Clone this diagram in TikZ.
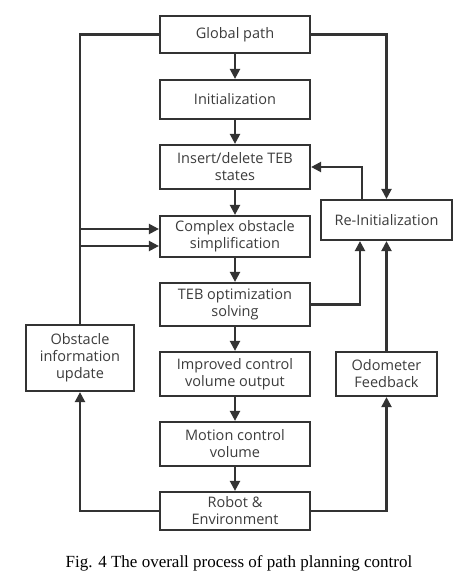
\documentclass[tikz,border=0pt]{standalone}
\usepackage{fontspec}
\setmainfont{Open Sans}
\newfontfamily\capfont{Liberation Serif}
\usetikzlibrary{arrows.meta}
\definecolor{ln}{HTML}{333333}
\definecolor{tx}{HTML}{3C3C3C}
\begin{document}
\begin{tikzpicture}[x=1pt,y=-1pt,
  box/.style={draw=ln,line width=2.2pt,fill=white,text=tx,align=center,inner sep=0pt,
    font=\fontsize{14.5}{17}\selectfont},
  conn/.style={draw=ln,line width=2.2pt,-{Triangle[length=10pt,width=10pt]}}]
\useasboundingbox (0,0) rectangle (457,583);
\fill[white] (0,0) rectangle (457,583);
\node[box,minimum width=150pt,minimum height=37pt] (gp) at (235,34.5) {Global path};
\node[box,minimum width=150pt,minimum height=39pt] (init) at (235,99.5) {Initialization};
\node[box,minimum width=150pt,minimum height=44pt] (ins) at (235,167) {Insert/delete TEB\\states};
\node[box,minimum width=150pt,minimum height=41pt] (cos) at (235,236.5) {Complex obstacle\\simplification};
\node[box,minimum width=150pt,minimum height=43pt] (teb) at (235,304.5) {TEB optimization\\solving};
\node[box,minimum width=150pt,minimum height=44pt] (imp) at (235,374) {Improved control\\volume output};
\node[box,minimum width=150pt,minimum height=44pt] (mot) at (235,444) {Motion control\\volume};
\node[box,minimum width=150pt,minimum height=38pt] (rob) at (235,511) {Robot \&\\Environment};
\node[box,minimum width=131pt,minimum height=40pt] (re) at (386.5,220) {Re-Initialization};
\node[box,minimum width=108pt,minimum height=66pt] (obs) at (80,358) {Obstacle\\information\\update};
\node[box,minimum width=101pt,minimum height=44pt] (odo) at (386.5,374) {Odometer\\Feedback};
\node[font=\capfont\fontsize{17}{19}\selectfont,text=black] (cap) at (239,563) {Fig. 4 The overall process of path planning control};
% main chain
\draw[conn] (gp) -- (init);
\draw[conn] (init) -- (ins);
\draw[conn] (ins) -- (cos);
\draw[conn] (cos) -- (teb);
\draw[conn] (teb) -- (imp);
\draw[conn] (imp) -- (mot);
\draw[conn] (mot) -- (rob);
% left loops
\coordinate (lt) at (80,34.5);
\draw[conn] (gp.west) -- (lt) |- ([yshift=-9.5pt]cos.west);
\draw[conn] (obs.north) |- ([yshift=7.5pt]cos.west);
\draw[conn] (rob.west) -| (obs.south);
% right loops
\draw[conn] (gp.east) -| (re.north);
\draw[conn] ([xshift=-24.5pt]re.north) |- (ins.east);
\draw[conn] (teb.east) -| ([xshift=-26.5pt]re.south);
\draw[conn] (odo.north) -- (re.south);
\draw[conn] (rob.east) -| (odo.south);
\end{tikzpicture}
\end{document}
